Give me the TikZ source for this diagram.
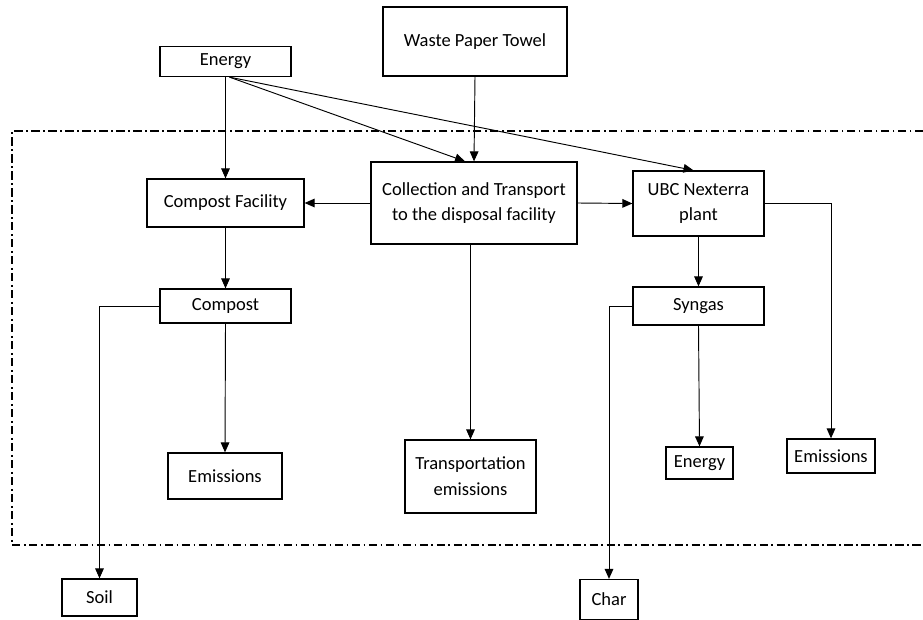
\documentclass[tikz,border=0pt]{standalone}
\usepackage{fontspec}
\setmainfont{Carlito}
\usetikzlibrary{arrows.meta,calc}
\tikzset{
  >={Triangle[length=3mm,width=2.6mm]},
  bx/.style={draw,line width=1.1pt,inner sep=2pt,align=center,
    font=\fontsize{15.8}{22}\selectfont},
  fl/.style={->,line width=0.8pt},
  sysline/.style={line width=0.9pt,dash pattern=on 7pt off 3pt on 1.5pt off 3pt},
}
\begin{document}
\begin{tikzpicture}[x=0.03cm,y=-0.03cm]
  \useasboundingbox (0,0) rectangle (923,620);
  % ---- system boundary ----
  \draw[sysline] (923,131) -- (12,131) -- (12,545) -- (923,545);
  % ---- inputs ----
  \node[bx,minimum width=3.93cm,minimum height=0.9cm] (energyin) at (225.5,61.5) {Energy};
  \node[bx,minimum width=5.52cm,minimum height=2.07cm] (towel) at (475,41.5) {Waste Paper Towel};
  % ---- processes ----
  \node[bx,minimum width=4.71cm,minimum height=1.44cm] (compfac) at (225.5,203) {Compost Facility};
  \node[bx,minimum width=6.18cm,minimum height=2.46cm] (collect) at (474,203) {Collection and Transport\\to the disposal facility};
  \node[bx,minimum width=3.93cm,minimum height=1.95cm] (ubc) at (698.5,203.5) {UBC Nexterra\\plant};
  \node[bx,minimum width=3.93cm,minimum height=1.02cm] (compost) at (225.5,306) {Compost};
  \node[bx,minimum width=3.93cm,minimum height=1.14cm] (syngas) at (698.5,306) {Syngas};
  % ---- outputs ----
  \node[bx,minimum width=3.42cm,minimum height=1.38cm] (emisleft) at (225,476) {Emissions};
  \node[bx,minimum width=3.93cm,minimum height=2.19cm] (transpem) at (470.5,476.5) {Transportation\\emissions};
  \node[bx,minimum width=2.01cm,minimum height=0.96cm] (energyout) at (699.5,463) {Energy};
  \node[bx,minimum width=2.64cm,minimum height=1.02cm] (emisright) at (831,456) {Emissions};
  \node[bx,minimum width=2.25cm,minimum height=1.11cm] (soil) at (99.5,597.5) {Soil};
  \node[bx,minimum width=1.74cm,minimum height=1.2cm] (char) at (609,599.5) {Char};
  % ---- flows ----
  \draw[fl] (energyin.south) -- (compfac.north);
  \draw[fl] ($(energyin.south)+(4,0)$) -- ($(collect.north)+(-9,0)$);
  \draw[fl] ($(energyin.south)+(4,0)$) -- ($(ubc.north)+(-5,0)$);
  \draw[fl] (towel.south) -- (collect.north);
  \draw[fl] (collect.west) -- (compfac.east);
  \draw[fl] (collect.east) -- (ubc.west);
  \draw[fl] (collect.south -| transpem.north) -- (transpem.north);
  \draw[fl] (ubc.east) -| (emisright.north);
  \draw[fl] (ubc.south) -- (syngas.north);
  \draw[fl] (compfac.south) -- (compost.north);
  \draw[fl] (compost.west) -| (soil.north);
  \draw[fl] (compost.south) -- (emisleft.north);
  \draw[fl] (syngas.south) -- (energyout.north);
  \draw[fl] (syngas.west) -| (char.north);
\end{tikzpicture}
\end{document}
